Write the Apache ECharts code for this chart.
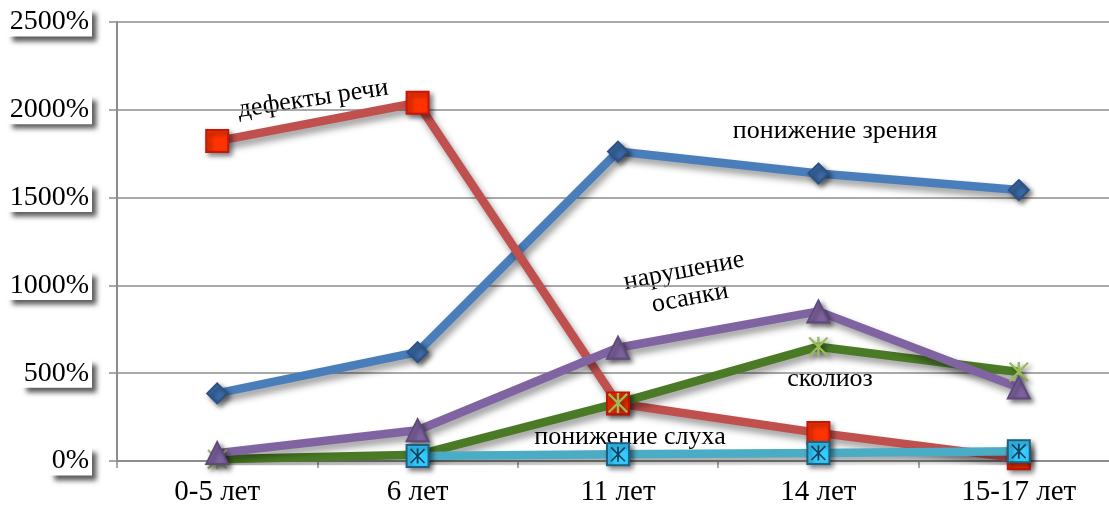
<!DOCTYPE html>
<html>
<head>
<meta charset="utf-8">
<script src="https://cdn.jsdelivr.net/npm/echarts@6/dist/echarts.min.js"></script>
<style>
  html, body { margin: 0; padding: 0; background: #fff; overflow: hidden; }
  #chart { width: 1125px; height: 511px; }
</style>
</head>
<body>
<div id="chart"></div>
<script>
// Age groups along the horizontal axis
const ageGroups = ['0-5 лет', '6 лет', '11 лет', '14 лет', '15-17 лет'];

// Prevalence by age group, in percent
const visionLoss   = [385, 620, 1762, 1637, 1543];   // понижение зрения
const speechDefect = [1822, 2040, 327, 160, 15];     // дефекты речи
const scoliosis    = [10, 35, 330, 651, 507];        // сколиоз
const posture      = [45, 175, 645, 852, 418];       // нарушение осанки
const hearingLoss  = [null, 28, 38, 45, 55];         // понижение слуха

// Value axis ticks
const yTicks = { min: 0, max: 2500, interval: 500 };

const SERIF = '"Liberation Serif", "DejaVu Serif", serif';

// Asterisk glyph used for the scoliosis markers and the hearing-loss box markers
const ASTERISK = 'path://M4.4,0 L5.6,0 L5.6,10 L4.4,10 Z ' +
  'M0,0.8 L0.8,0 L10,9.2 L9.2,10 Z ' +
  'M10,0.8 L0.8,10 L0,9.2 L9.2,0 Z';

const lineShadow = {
  shadowColor: 'rgba(0,0,0,0.4)',
  shadowBlur: 7,
  shadowOffsetX: 3,
  shadowOffsetY: 5
};
const markShadow = {
  shadowColor: 'rgba(0,0,0,0.5)',
  shadowBlur: 5,
  shadowOffsetX: 3,
  shadowOffsetY: 3
};

function lineSeries(name, data, color, symbol, size, fill, border) {
  return {
    name: name,
    type: 'line',
    data: data,
    connectNulls: false,
    symbol: symbol,
    symbolSize: size,
    showSymbol: true,
    lineStyle: Object.assign({ color: color, width: 8.5 }, lineShadow),
    itemStyle: Object.assign({ color: fill, borderColor: border, borderWidth: border ? 2 : 0 }, markShadow),
    emphasis: { disabled: true },
    animation: false
  };
}

const chart = echarts.init(document.getElementById('chart'), null, { renderer: 'canvas' });

chart.setOption({
  backgroundColor: '#ffffff',
  animation: false,
  // plot runs slightly past the visible right edge of the page
  grid: { left: 117, right: 6, top: 22, bottom: 50, containLabel: false },
  xAxis: {
    type: 'category',
    data: ageGroups,
    boundaryGap: true,
    axisLine: { lineStyle: { color: '#8c8c8c', width: 2 } },
    axisTick: { show: true, length: 7, inside: false, lineStyle: { color: '#8c8c8c', width: 1.5 } },
    axisLabel: { color: '#000', fontFamily: SERIF, fontSize: 29, margin: 17 },
    splitLine: { show: false }
  },
  yAxis: {
    type: 'value',
    min: yTicks.min,
    max: yTicks.max,
    interval: yTicks.interval,
    axisLine: { show: true, lineStyle: { color: '#8c8c8c', width: 2 } },
    axisTick: { show: true, length: 8, inside: false, lineStyle: { color: '#8c8c8c', width: 1.5 } },
    axisLabel: {
      formatter: function (v) { return v + '%'; },
      color: '#000',
      fontFamily: SERIF,
      fontSize: 28,
      margin: 25,
      backgroundColor: '#ffffff',
      padding: [1, 3, 0, 3],
      shadowColor: 'rgba(0,0,0,0.65)',
      shadowBlur: 5,
      shadowOffsetX: 5,
      shadowOffsetY: 5
    },
    splitLine: { show: true, lineStyle: { color: '#8c8c8c', width: 1.5 } }
  },
  series: [
    lineSeries('понижение зрения', visionLoss, '#4a7ebb', 'diamond', 20, '#3a6aa6', '#2c5283'),
    lineSeries('дефекты речи', speechDefect, '#c0504d', 'rect', 22, '#ff3300', '#c4170c'),
    lineSeries('сколиоз', scoliosis, '#4a7a25', ASTERISK, 20, '#9bbb59', null),
    lineSeries('нарушение осанки', posture, '#8064a2', 'triangle', 22, '#8064a2', '#5f4a7d'),
    lineSeries('понижение слуха', hearingLoss, '#4bacc6', 'rect', 22, '#33ccff', '#1f5f80'),
    {
      name: 'понижение слуха',
      type: 'line',
      data: hearingLoss,
      symbol: ASTERISK,
      symbolSize: 15,
      lineStyle: { opacity: 0 },
      itemStyle: { color: '#163f5c' },
      silent: true,
      emphasis: { disabled: true },
      animation: false
    }
  ],
  graphic: [
    { type: 'text', x: 313, y: 99, rotation: 0.15,
      style: { text: 'дефекты речи', font: '26px ' + SERIF, fill: '#000', textAlign: 'center', textVerticalAlign: 'middle' } },
    { type: 'text', x: 835, y: 131,
      style: { text: 'понижение зрения', font: '26px ' + SERIF, fill: '#000', textAlign: 'center', textVerticalAlign: 'middle' } },
    { type: 'text', x: 684, y: 271, rotation: 0.19,
      style: { text: 'нарушение', font: '26px ' + SERIF, fill: '#000', textAlign: 'center', textVerticalAlign: 'middle' } },
    { type: 'text', x: 690, y: 298, rotation: 0.19,
      style: { text: 'осанки', font: '26px ' + SERIF, fill: '#000', textAlign: 'center', textVerticalAlign: 'middle' } },
    { type: 'text', x: 830, y: 379,
      style: { text: 'сколиоз', font: '26px ' + SERIF, fill: '#000', textAlign: 'center', textVerticalAlign: 'middle' } },
    { type: 'text', x: 630, y: 437,
      style: { text: 'понижение слуха', font: '26px ' + SERIF, fill: '#000', textAlign: 'center', textVerticalAlign: 'middle' } }
  ]
});
</script>
</body>
</html>
